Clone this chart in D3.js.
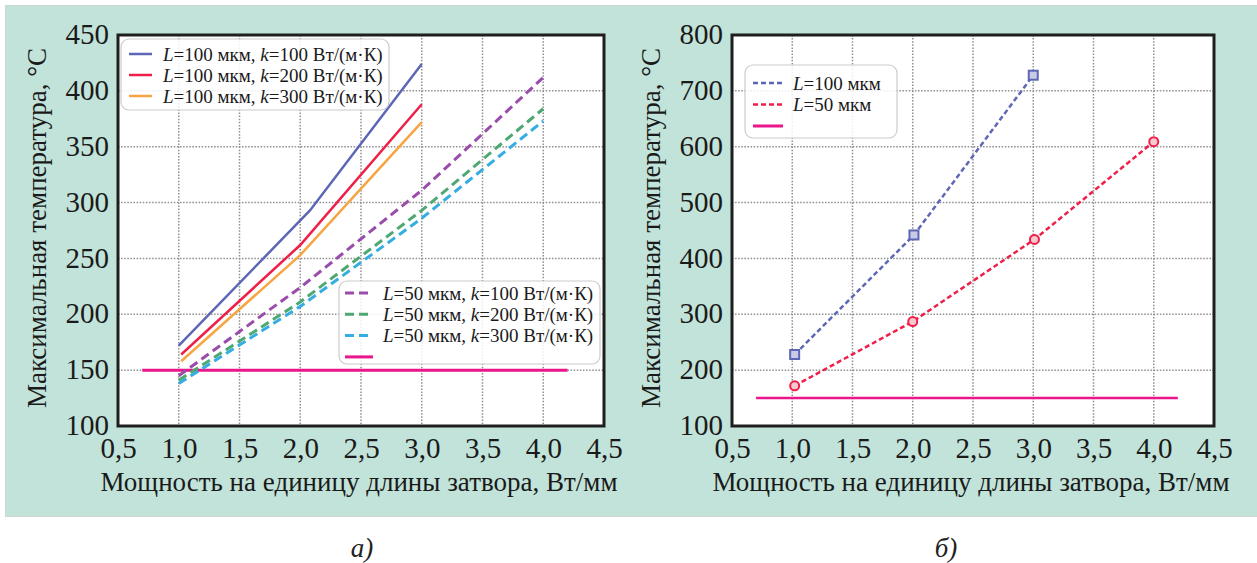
<!DOCTYPE html>
<html>
<head>
<meta charset="utf-8">
<script src="https://cdn.jsdelivr.net/npm/d3@7"></script>
<style>
  html, body { margin: 0; padding: 0; background: #fff; }
  svg, svg text { font-family: "Liberation Serif", "DejaVu Serif", "Times New Roman", serif; }
</style>
</head>
<body>
<svg id="chart" width="1257" height="563"></svg>
<script>
// ---- Data -------------------------------------------------------------
const xTickValues = [0.5, 1.0, 1.5, 2.0, 2.5, 3.0, 3.5, 4.0, 4.5];
const yTicksA = [100, 150, 200, 250, 300, 350, 400, 450];
const yTicksB = [100, 200, 300, 400, 500, 600, 700, 800];

// Panel a: L = 100 µm (solid) and L = 50 µm (dashed), k = 100/200/300 W/(m·K)
const a_L100_k100_x = [1.0, 2.08, 3.0];
const a_L100_k100_y = [172, 293, 424];
const a_L100_k200_x = [1.02, 2.0, 3.0];
const a_L100_k200_y = [164, 262, 388];
const a_L100_k300_x = [1.02, 2.0, 3.0];
const a_L100_k300_y = [158, 253, 372];
const a_L50_x = [1.0, 2.0, 3.0, 4.0];
const a_L50_k100_y = [145, 224, 311, 412];
const a_L50_k200_y = [141, 211, 293, 384];
const a_L50_k300_y = [138, 207, 286, 373];

// Panel b
const b_L100_x = [1.02, 2.01, 3.0];
const b_L100_y = [228, 442, 728];
const b_L50_x = [1.02, 2.0, 3.01, 4.0];
const b_L50_y = [172, 287, 434, 609];

// Limit temperature line
const limitX = [0.7, 4.2];
const limitT = 150;

// ---- Styling ----------------------------------------------------------
const FONT = '"Liberation Serif", "DejaVu Serif", "Times New Roman", serif';
const C = {
  blue: "#5d67b6", red: "#ef1f48", orange: "#f7a541",
  purple: "#9a4cab", green: "#4ea872", cyan: "#35ade2",
  magenta: "#e9168c", bg: "#c2e3d9"
};

const svg = d3.select("#chart");

// panel background
svg.append("rect").attr("x", 5.5).attr("y", 5.5).attr("width", 1260).attr("height", 511)
  .attr("fill", C.bg).attr("stroke", "#cfd6d3").attr("stroke-width", 1);

const fmt = v => d3.format(".1f")(v).replace(".", ",");

function panel(opt) {
  const g = svg.append("g");
  const x = d3.scaleLinear().domain([0.5, 4.5]).range([opt.left, opt.right]);
  const y = d3.scaleLinear().domain(opt.yDomain).range([426, 35]);

  g.append("rect").attr("x", opt.left).attr("y", 35)
    .attr("width", opt.right - opt.left).attr("height", 391).attr("fill", "#fff");

  // dotted grid
  const grid = g.append("g").attr("stroke", "#8f8f8f").attr("stroke-width", 1.5)
    .attr("stroke-dasharray", "1.5,1.6");
  grid.selectAll(".gx").data(xTickValues.slice(1, -1)).join("line")
    .attr("x1", d => x(d)).attr("x2", d => x(d)).attr("y1", 35).attr("y2", 426);
  grid.selectAll(".gy").data(opt.yTicks.slice(1, -1)).join("line")
    .attr("y1", d => y(d)).attr("y2", d => y(d)).attr("x1", opt.left).attr("x2", opt.right);

  // axes (labels only, no tick marks)
  const xAxis = d3.axisBottom(x).tickValues(xTickValues).tickFormat(fmt).tickSize(0).tickPadding(11);
  const gx = g.append("g").attr("transform", "translate(0,426)").call(xAxis)
    .attr("font-family", null).attr("font-size", null);
  gx.select(".domain").remove();
  gx.selectAll("text").attr("fill", "#1a1a1a").attr("dy", "0.72em")
    .style("font-family", FONT).style("font-size", "29px");

  const yAxis = d3.axisLeft(y).tickValues(opt.yTicks).tickFormat(d3.format("d")).tickSize(0).tickPadding(9);
  const gy = g.append("g").attr("transform", `translate(${opt.left},0)`).call(yAxis)
    .attr("font-family", null).attr("font-size", null);
  gy.select(".domain").remove();
  gy.selectAll("text").attr("fill", "#1a1a1a").attr("dy", "0.3em")
    .style("font-family", FONT).style("font-size", "29px");

  g.append("text").attr("x", (opt.left + opt.right) / 2 + opt.xLabelShift).attr("y", 491)
    .attr("text-anchor", "middle").attr("fill", "#1a1a1a")
    .style("font-family", FONT).style("font-size", "27px")
    .text("Мощность на единицу длины затвора, Вт/мм");
  g.append("text")
    .attr("transform", `translate(${opt.left - 72},${228}) rotate(-90)`)
    .attr("text-anchor", "middle").attr("fill", "#1a1a1a")
    .style("font-family", FONT).style("font-size", "27px")
    .text("Максимальная температура, °C");

  g.append("text").attr("x", opt.captionX).attr("y", 557).attr("text-anchor", "middle")
    .style("font-family", FONT).style("font-size", "27px").style("font-style", "italic")
    .attr("fill", "#222").text(opt.caption);

  return { g, x, y };
}

function drawLine(p, xs, ys, color, width, dash) {
  const pts = xs.map((d, i) => [d, ys[i]]);
  p.g.append("path").datum(pts)
    .attr("d", d3.line().x(d => p.x(d[0])).y(d => p.y(d[1])))
    .attr("fill", "none").attr("stroke", color).attr("stroke-width", width)
    .attr("stroke-dasharray", dash || null);
}

function frame(p, left, right) {
  p.g.append("rect").attr("x", left).attr("y", 35).attr("width", right - left).attr("height", 391)
    .attr("fill", "none").attr("stroke", "#1e1e1e").attr("stroke-width", 3);
}

function legend(p, box, rows) {
  const lg = p.g.append("g");
  lg.append("rect").attr("x", box.x).attr("y", box.y).attr("width", box.w).attr("height", box.h)
    .attr("rx", 8).attr("fill", "rgba(255,255,255,0.85)").attr("stroke", "#cccccc").attr("stroke-width", 1.2);
  rows.forEach((r, i) => {
    const cy = box.y + box.first + i * box.step;
    lg.append("line").attr("x1", box.x + box.s0).attr("x2", box.x + box.s1)
      .attr("y1", cy).attr("y2", cy).attr("stroke", r.color).attr("stroke-width", r.width)
      .attr("stroke-dasharray", r.dash || null);
    if (r.label) {
      const t = lg.append("text").attr("x", box.x + box.tx).attr("y", cy).attr("dy", "0.35em")
        .style("font-family", FONT).style("font-size", box.fs + "px").attr("fill", "#1a1a1a");
      r.label.forEach(part => {
        t.append("tspan").style("font-style", part.i ? "italic" : "normal").text(part.t);
      });
    }
  });
}

// ---- Panel a ----------------------------------------------------------
const pa = panel({ left: 118, right: 604, yDomain: [100, 450], yTicks: yTicksA,
  xLabelShift: -2, caption: "а)", captionX: 362 });
drawLine(pa, limitX, [limitT, limitT], C.magenta, 3);
drawLine(pa, a_L50_x, a_L50_k100_y, C.purple, 3, "9,5");
drawLine(pa, a_L50_x, a_L50_k200_y, C.green, 3, "9,5");
drawLine(pa, a_L50_x, a_L50_k300_y, C.cyan, 3, "9,5");
drawLine(pa, a_L100_k100_x, a_L100_k100_y, C.blue, 2.5);
drawLine(pa, a_L100_k200_x, a_L100_k200_y, C.red, 2.5);
drawLine(pa, a_L100_k300_x, a_L100_k300_y, C.orange, 2.5);
frame(pa, 118, 604);

const lab = (L, k) => [{ t: "L", i: true }, { t: `=${L} мкм, ` }, { t: "k", i: true }, { t: `=${k} Вт/(м·К)` }];
legend(pa, { x: 121, y: 39, w: 268, h: 71, first: 15, step: 21, s0: 8, s1: 31, tx: 42, fs: 19 }, [
  { color: C.blue, width: 2.5, label: lab(100, 100) },
  { color: C.red, width: 2.5, label: lab(100, 200) },
  { color: C.orange, width: 2.5, label: lab(100, 300) }
]);
legend(pa, { x: 339, y: 281, w: 261, h: 83, first: 12, step: 21.3, s0: 6, s1: 34, tx: 44, fs: 19 }, [
  { color: C.purple, width: 3, dash: "9,5", label: lab(50, 100) },
  { color: C.green, width: 3, dash: "9,5", label: lab(50, 200) },
  { color: C.cyan, width: 3, dash: "9,5", label: lab(50, 300) },
  { color: C.magenta, width: 3 }
]);

// ---- Panel b ----------------------------------------------------------
const pb = panel({ left: 732, right: 1214, yDomain: [100, 800], yTicks: yTicksB,
  xLabelShift: -2, caption: "б)", captionX: 946 });
drawLine(pb, limitX, [limitT, limitT], C.magenta, 2.5);
drawLine(pb, b_L100_x, b_L100_y, C.blue, 2.5, "5,3");
drawLine(pb, b_L50_x, b_L50_y, C.red, 2.5, "5,3");

pb.g.selectAll(".sq").data(b_L100_x.map((d, i) => [d, b_L100_y[i]])).join("rect")
  .attr("x", d => pb.x(d[0]) - 4.5).attr("y", d => pb.y(d[1]) - 4.5)
  .attr("width", 9).attr("height", 9)
  .attr("fill", "#c9cbe6").attr("stroke", C.blue).attr("stroke-width", 2);
pb.g.selectAll(".ci").data(b_L50_x.map((d, i) => [d, b_L50_y[i]])).join("circle")
  .attr("cx", d => pb.x(d[0])).attr("cy", d => pb.y(d[1])).attr("r", 4.5)
  .attr("fill", "#f6c9d1").attr("stroke", C.red).attr("stroke-width", 2);
frame(pb, 732, 1214);

legend(pb, { x: 745, y: 65, w: 152, h: 73, first: 18, step: 21.5, s0: 8, s1: 38, tx: 48, fs: 19 }, [
  { color: C.blue, width: 2.5, dash: "5,3", label: [{ t: "L", i: true }, { t: "=100 мкм" }] },
  { color: C.red, width: 2.5, dash: "5,3", label: [{ t: "L", i: true }, { t: "=50 мкм" }] },
  { color: C.magenta, width: 3 }
]);
</script>
</body>
</html>
